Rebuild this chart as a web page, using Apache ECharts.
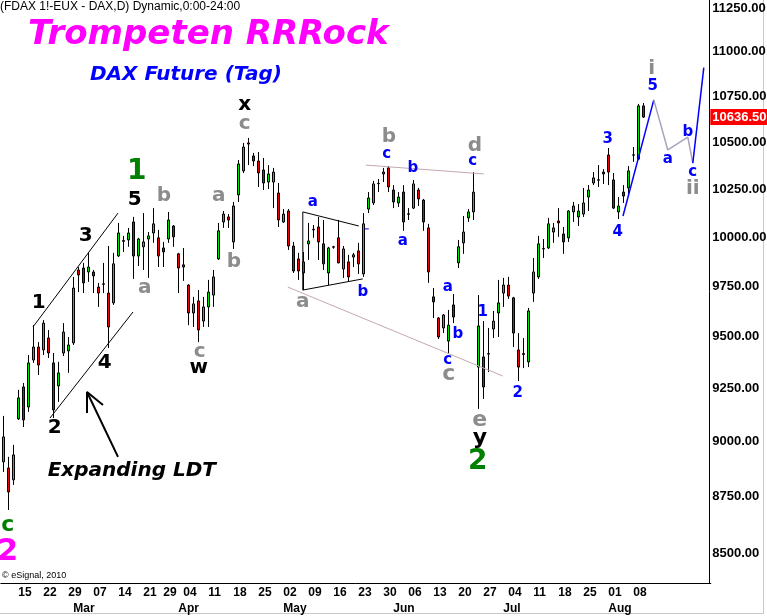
<!DOCTYPE html>
<html><head><meta charset="utf-8">
<style>html,body{margin:0;padding:0;background:#fff}#c{width:767px;height:616px}</style>
<script src="https://cdn.jsdelivr.net/npm/echarts@6/dist/echarts.min.js"></script>
</head><body><div id="c"></div>
<script>
// ---- data ----
const dates = ['02-10','02-11','02-12','02-15','02-16','02-17','02-18','02-19','02-22','02-23','02-24','02-25','02-26','02-29',
'03-01','03-02','03-03','03-04','03-07','03-08','03-09','03-10','03-11','03-14','03-15','03-16','03-17','03-18','03-21','03-22','03-23','03-24','03-29','03-30','03-31',
'04-01','04-04','04-05','04-06','04-07','04-08','04-11','04-12','04-13','04-14','04-15','04-18','04-19','04-20','04-21','04-22','04-25','04-26','04-27','04-28','04-29',
'05-02','05-03','05-04','05-05','05-06','05-09','05-10','05-11','05-12','05-13','05-16','05-17','05-18','05-19','05-20','05-23','05-24','05-25','05-26','05-27','05-30','05-31',
'06-01','06-02','06-03','06-06','06-07','06-08','06-09','06-10','06-13','06-14','06-15','06-16','06-17','06-20','06-21','06-22','06-23','06-24','06-27','06-28','06-29','06-30',
'07-01','07-04','07-05','07-06','07-07','07-08','07-11','07-12','07-13','07-14','07-15','07-18','07-19','07-20','07-21','07-22','07-25','07-26','07-27','07-28','07-29',
'08-01','08-02','08-03','08-04','08-05','08-08','08-09','08-10'];
const opens = [8908,8880,8826,9107,9258,9163,9387,9450,9436,9494,9373,9263,9421,9431,9470,9832,9842,9822,9822,9746,9762,9716,9667,9903,9982,9985,10078,9903,9950,9990,10021,9996,9944,9990,10057,9914,9858,9756,9617,9677,9577,9647,9706,9888,10078,10104,9975,10219,10346,10496,10426,10399,10351,10287,10287,10229,10078,10135,9954,9888,9817,9965,10040,10052,9965,9817,9950,9996,9837,9873,9898,9929,9812,10145,10177,10278,10330,10362,10245,10177,10234,10120,10150,10245,10192,10047,9697,9592,9543,9479,9657,9868,9970,10099,10130,9353,9402,9418,9538,9617,9716,9756,9692,9436,9418,9378,9716,9797,9941,9944,10026,10083,10016,9996,10130,10104,10119,10208,10282,10299,10340,10431,10298,10130,10234,10256,10430,10409,10698];
const closes = [9023,8771,8940,9206,9102,9373,9450,9363,9567,9421,9149,9325,9523,9460,9741,9807,9767,9847,9802,9716,9760,9548,9863,10021,9978,10021,9903,9990,9975,10006,10068,9903,9924,10088,10001,9842,9847,9617,9662,9533,9647,9721,9797,10032,10119,10088,10161,10383,10474,10490,10399,10335,10282,10330,10340,10088,10119,9954,9827,9827,9873,9980,10037,9975,9863,9944,9948,9868,9939,9797,9909,9863,10068,10203,10277,10280,10340,10261,10182,10208,10078,10118,10277,10198,10078,9822,9672,9499,9607,9557,9597,9950,10026,10130,10234,9553,9258,9416,9577,9667,9756,9701,9518,9353,9414,9627,9822,9965,9939,10068,10047,10073,9975,10135,10161,10135,10177,10245,10309,10297,10330,10340,10150,10161,10213,10346,10432,10698,10636.5];
const lows = [8862,8690,8803,9102,9069,9140,9373,9315,9411,9397,9111,9187,9406,9325,9460,9721,9716,9772,9716,9647,9716,9445,9657,9898,9924,9950,9787,9852,9832,9792,9970,9847,9847,9970,9950,9716,9777,9557,9548,9474,9548,9548,9647,9883,10047,10047,9939,10182,10335,10377,10372,10261,10245,10250,10150,10052,10073,9934,9817,9782,9731,9883,9996,9883,9832,9756,9940,9866,9792,9772,9847,9812,9797,10124,10166,10234,10287,10234,10150,10156,10032,10088,10145,10161,10032,9767,9592,9489,9518,9421,9567,9842,9914,10078,10088,9154,9201,9329,9494,9499,9647,9687,9450,9286,9348,9353,9672,9787,9893,9939,9970,10001,9914,9975,10078,10057,10104,10135,10271,10261,10277,10271,10145,10093,10177,10213,10394,10404,10632];
const highs = [9121,8931,8986,9244,9277,9411,9557,9474,9582,9533,9421,9378,9567,9499,9797,9847,9868,9919,9832,9767,9868,9954,9919,10073,10006,10047,10104,9996,10124,10026,10150,10037,9975,10130,10062,9919,9944,9760,9697,9731,9697,9782,9832,10073,10135,10119,10182,10404,10496,10523,10442,10447,10415,10377,10362,10282,10145,10145,9975,9919,9924,10073,10062,10104,10088,9950,9955,10088,9954,9909,9919,9970,10124,10234,10293,10303,10362,10372,10271,10234,10271,10150,10298,10256,10198,10068,9741,9597,9612,9632,9711,9985,10109,10145,10340,9706,9577,9543,9627,9782,9792,9797,9697,9518,9494,9642,9893,10006,9990,10099,10073,10150,10052,10140,10182,10171,10256,10271,10340,10377,10356,10469,10335,10208,10271,10372,10474,10709,10714];
const lastPrice = 10636.5;
const weekTicks = ['02-15','02-22','02-29','03-07','03-14','03-21','03-29','04-04','04-11','04-18','04-25','05-02','05-09','05-16','05-23','05-30','06-06','06-13','06-20','06-27','07-04','07-11','07-18','07-25','08-01','08-08'];
const monthTicks = ['03-01','04-01','05-02','06-01','07-01','08-01'];
const monthNames = ['Mar','Apr','May','Jun','Jul','Aug'];
const yTicks = [8500,8750,9000,9250,9500,9750,10000,10250,10500,10750,11000,11250];
const futureSlots = 13;

// wave labels: text, bar index, price, kind
const waveText  = ['x','c','1','5','b','a','3','b','a','1','4','2','c','w','c','2','a','b','a','b','c','b','a','d','c','a','b','c','c','1','e','y','2','2','3','4','i','5','a','b','c','ii'];
const waveIdx   = [48.3,48.3,26.7,26.3,32.1,43.1,16.5,46.1,28.3,7.1,20.3,10.3,39.3,39.1,0.9,0.9,61.9,71.9,59.9,77.1,76.7,81.9,79.9,94.3,93.9,88.9,90.9,88.9,89.1,95.9,95.3,95.3,94.9,102.9,120.9,122.9,129.7,129.9,132.9,136.9,137.9,137.9];
const wavePrice = [10703,10599,10340,10192,10213,10213,10006,9873,9741,9667,9373,9064,9426,9348,8622,8504,10182,9721,9672,10528,10436,10362,9980,10479,10399,9746,9513,9387,9320,9622,9102,9018,8908,9230,10517,10026,10906,10809,10409,10555,10340,10250];
const waveKind  = ['K','g','G','K','g','g','K','g','g','K','K','K','g','K','gc','M','b','b','g','g','b','b','b','g','b','b','b','b','gL','b','gL','KL','G','b','b','b','g','b','b','b','b','g'];
const noteText = ['Expanding LDT'];
const noteIdx = [25.7];
const notePrice = [8867];

// annotation lines: [bar index, price]
const ldtUpper = [[5.94,9548],[22.94,10124]];
const ldtLower = [[9.34,9111],[25.94,9622]];
const triUpper = [[59.9,10130],[71.1,10057]];
const triLower = [[59.9,9731],[71.9,9787]];
const triLeft  = [[59.9,10130],[59.9,9731]];
const blueTick = [[72.3,10042],[73.1,10042]];
const channelTop = [[72.5,10377],[96.1,10330]];
const channelBottom = [[56.9,9746],[99.9,9310]];
const projUp   = [[123.94,10109],[130.1,10731]];
const projABC  = [[130.1,10731],[132.9,10458],[136.9,10528],[137.9,10388]];
const projLast = [[137.9,10388],[140.1,10911]];
const arrowShaft = [[22.94,8931],[16.74,9234]];
const arrowHead  = [[16.74,9135],[16.74,9234],[19.94,9172]];

// ---- build ----
const cats = dates.slice();
for (let k = 0; k < futureSlots; k++) cats.push('f' + k);
const nCats = cats.length;
const candles = dates.map((d, i) => [opens[i], closes[i], lows[i], highs[i]]);
const weekSet = new Set(weekTicks);
const monthMap = {}; monthTicks.forEach((d, i) => monthMap[d] = monthNames[i]);

const kindStyle = {
  K:  {color:'#000000', fontSize:20},
  KL: {color:'#000000', fontSize:22},
  g:  {color:'#8c8c8c', fontSize:20},
  gL: {color:'#8c8c8c', fontSize:22},
  G:  {color:'#008000', fontSize:28},
  gc: {color:'#008000', fontSize:22},
  M:  {color:'#ff00ff', fontSize:30},
  b:  {color:'#0000ff', fontSize:15}
};
const waveData = waveText.map((t, i) => ({
  value: [waveIdx[i], wavePrice[i]], name: t,
  label: Object.assign({fontWeight:'bold', fontFamily:'DejaVu Sans', opacity:1}, kindStyle[waveKind[i]])
}));
noteText.forEach((t, i) => waveData.push({
  value: [noteIdx[i], notePrice[i]], name: t,
  label: {fontWeight:'bold', fontStyle:'italic', fontFamily:'DejaVu Sans', fontSize:20, color:'#000', opacity:1}
}));

// price-scale labels, anchored on the right edge of the plot
const axisEdge = nCats - 0.5;
const priceLabelData = yTicks.map(v => ({value:[axisEdge, v], name:v.toFixed(2)}));
priceLabelData.push({value:[axisEdge, lastPrice], name:lastPrice.toFixed(2),
  label:{color:'#ffffff', backgroundColor:'#ff0000', padding:[2,3,1,2], distance:-1}});

function lineSeries(pts, color, width) {
  return {type:'line', xAxisIndex:2, yAxisIndex:0, data:pts, symbol:'none', silent:true, z:4,
    lineStyle:{color:color, width:width}, animation:false};
}

const chart = echarts.init(document.getElementById('c'), null, {renderer:'canvas'});
chart.setOption({
  animation:false,
  backgroundColor:'#ffffff',
  grid:{left:0.8, top:0, width:710, height:583, outerBoundsMode:'none'},
  xAxis:[
    {type:'category', data:cats, boundaryGap:true, position:'bottom',
     axisLine:{show:true, onZero:false, lineStyle:{color:'#000', width:1}}, axisTick:{show:false}, splitLine:{show:false},
     axisLabel:{interval:(i, v) => weekSet.has(v), formatter:v => v.slice(3), align:'left', margin:4,
       fontFamily:'"Liberation Sans Narrow","Liberation Sans",Arial', fontWeight:'bold', fontSize:12, color:'#000'}},
    {type:'category', data:cats, boundaryGap:true, position:'bottom', offset:16,
     axisLine:{show:false, onZero:false}, axisTick:{show:false}, splitLine:{show:false},
     axisLabel:{interval:(i, v) => monthMap[v] !== undefined, formatter:v => monthMap[v] || '', align:'left', margin:4,
       fontFamily:'"Liberation Sans Narrow","Liberation Sans",Arial', fontWeight:'bold', fontSize:12, color:'#000'}},
    {type:'value', min:-0.5, max:axisEdge, show:false}
  ],
  yAxis:[{type:'log', logBase:10, min:8369.8, max:11296.8, position:'right', offset:-2,
    axisLine:{show:true, onZero:false, lineStyle:{color:'#000', width:1}}, axisTick:{show:false},
    axisLabel:{show:false}, splitLine:{show:false}}],
  series:[
    {type:'candlestick', xAxisIndex:0, yAxisIndex:0, data:candles, barWidth:3, silent:true, z:3,
     itemStyle:{color:'#00e000', color0:'#ee0000', borderColor:'#000', borderColor0:'#000', borderColorDoji:'#000', borderWidth:1}},
    lineSeries(ldtUpper, '#000', 1),
    lineSeries(ldtLower, '#000', 1),
    lineSeries(triUpper, '#000', 1),
    lineSeries(triLower, '#000', 1),
    lineSeries(triLeft, '#000', 1),
    lineSeries(blueTick, '#0000ff', 1),
    lineSeries(channelTop, '#c4a8b4', 1),
    lineSeries(channelBottom, '#c4a8b4', 1),
    lineSeries(projUp, '#0000ff', 1.5),
    lineSeries(projABC, '#aaa2bc', 1.5),
    lineSeries(projLast, '#0000ff', 1.5),
    lineSeries(arrowShaft, '#000', 2),
    lineSeries(arrowHead, '#000', 2),
    {type:'scatter', xAxisIndex:2, yAxisIndex:0, data:waveData, symbolSize:1, silent:true, z:10,
     itemStyle:{color:'rgba(0,0,0,0)', opacity:1},
     label:{show:true, position:'inside', opacity:1, formatter:p => p.name}},
    {type:'scatter', xAxisIndex:2, yAxisIndex:0, data:priceLabelData, symbolSize:1, silent:true, z:12, clip:false,
     itemStyle:{color:'rgba(0,0,0,0)', opacity:1},
     label:{show:true, position:'right', distance:1, opacity:1, formatter:p => p.name, color:'#000',
       fontWeight:'bold', fontSize:13, fontFamily:'"Liberation Sans",Arial'}}
  ],
  graphic:[
    {type:'text', x:0, y:1, silent:true, style:{text:'(FDAX 1!-EUX - DAX,D) Dynamic,0:00-24:00', font:'12px "Liberation Sans", Arial', fill:'#000', textVerticalAlign:'top'}},
    {type:'text', x:28, y:35, silent:true, style:{text:'Trompeten RRRock', font:'italic bold 34px "DejaVu Sans"', fill:'#ff00ff', textVerticalAlign:'middle'}},
    {type:'text', x:90, y:75, silent:true, style:{text:'DAX Future (Tag)', font:'italic bold 20px "DejaVu Sans"', fill:'#0000ff', textVerticalAlign:'middle'}},
    {type:'text', x:2, y:576, silent:true, style:{text:'\u00a9 eSignal, 2010', font:'9px "Liberation Sans", Arial', fill:'#000', textVerticalAlign:'middle'}},
    {type:'rect', silent:true, shape:{x:763, y:0, width:1, height:614}, style:{fill:'#c8c8c8'}},
    {type:'rect', silent:true, shape:{x:0, y:613, width:764, height:1}, style:{fill:'#c8c8c8'}}
  ]
});
</script></body></html>
